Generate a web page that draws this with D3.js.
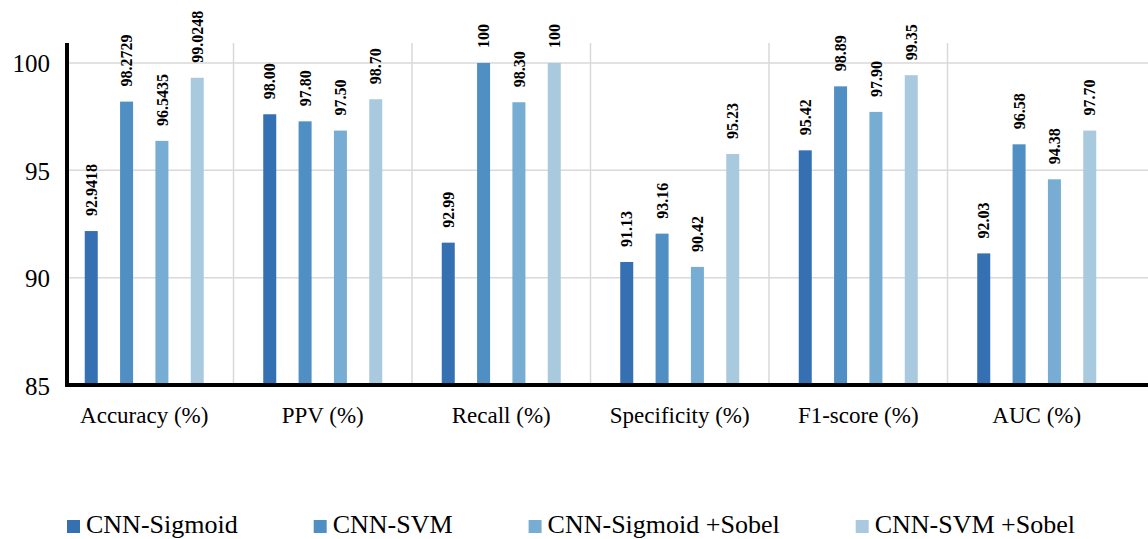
<!DOCTYPE html>
<html>
<head>
<meta charset="utf-8">
<script src="https://cdn.jsdelivr.net/npm/d3@7"></script>
<style>
    body { margin: 0; background: #fff; }
    svg { display: block; }
</style>
</head>
<body>
<svg width="1148" height="539"></svg>
<script>
var categories = ['Accuracy (%)', 'PPV (%)', 'Recall (%)', 'Specificity (%)', 'F1-score (%)', 'AUC (%)'];
var seriesNames = ['CNN-Sigmoid', 'CNN-SVM', 'CNN-Sigmoid +Sobel', 'CNN-SVM +Sobel'];
var colors = ['#3470b2', '#4f8fc4', '#77add2', '#a9c9de'];

// bar heights as drawn in the picture
var sigmoidValues = [92.17, 97.61, 91.63, 90.73, 95.93, 91.13];
var svmValues = [98.20, 97.28, 100, 92.05, 98.91, 96.21];
var sigmoidSobelValues = [96.37, 96.85, 98.17, 90.50, 97.72, 94.58];
var svmSobelValues = [99.31, 98.31, 100, 95.76, 99.43, 96.85];

// the numbers printed above the bars
var sigmoidLabels = ['92.9418', '98.00', '92.99', '91.13', '95.42', '92.03'];
var svmLabels = ['98.2729', '97.80', '100', '93.16', '98.89', '96.58'];
var sigmoidSobelLabels = ['96.5435', '97.50', '98.30', '90.42', '97.90', '94.38'];
var svmSobelLabels = ['99.0248', '98.70', '100', '95.23', '99.35', '97.70'];

var yTicks = [85, 90, 95, 100];

var values = [sigmoidValues, svmValues, sigmoidSobelValues, svmSobelValues];
var labels = [sigmoidLabels, svmLabels, sigmoidSobelLabels, svmSobelLabels];

var font = "'Liberation Serif', 'Times New Roman', Times, 'DejaVu Serif', serif";
var axisX = 67;
var baseY = 385;
var topY = 43;
var rightX = 1148;
var barWidth = 13;

var svg = d3.select('svg').style('font-family', font);

var x = d3.scaleBand().domain(categories).range([55, 1126]);
var xs = d3.scalePoint().domain(seriesNames).range([-53, 53]);
var y = d3.scaleLinear().domain([85, 101]).range([baseY, baseY - 16 * 21.47]);

// vertical separators between groups
svg.append('g')
    .selectAll('line')
    .data(categories.slice(1))
    .enter().append('line')
    .attr('x1', function(d) { return x(d); })
    .attr('x2', function(d) { return x(d); })
    .attr('y1', topY)
    .attr('y2', baseY)
    .attr('stroke', '#d9d9d9')
    .attr('stroke-width', 1.5);

// horizontal grid
svg.append('g')
    .selectAll('line')
    .data(yTicks.slice(1))
    .enter().append('line')
    .attr('x1', axisX)
    .attr('x2', rightX)
    .attr('y1', function(d) { return y(d); })
    .attr('y2', function(d) { return y(d); })
    .attr('stroke', '#d9d9d9')
    .attr('stroke-width', 1.5);

// y tick labels
var yAxis = svg.append('g')
    .attr('transform', 'translate(' + (axisX - 17) + ',0)')
    .call(d3.axisLeft(y).tickValues(yTicks).tickSize(0).tickPadding(0));
yAxis.attr('font-family', null).attr('font-size', null);
yAxis.select('.domain').remove();
yAxis.selectAll('text')
    .style('font-family', font)
    .style('font-size', '25px')
    .style('fill', '#000')
    .attr('dy', '0.36em');

// bars and value labels
seriesNames.forEach(function(name, s) {
    var g = svg.append('g').attr('class', 'series');

    g.selectAll('rect')
        .data(values[s])
        .enter().append('rect')
        .attr('x', function(d, i) { return x(categories[i]) + x.bandwidth() / 2 + xs(name) - barWidth / 2; })
        .attr('y', function(d) { return y(d); })
        .attr('width', barWidth)
        .attr('height', function(d) { return baseY - y(d); })
        .attr('fill', colors[s]);

    g.selectAll('text')
        .data(values[s])
        .enter().append('text')
        .attr('transform', function(d, i) {
            var cx = x(categories[i]) + x.bandwidth() / 2 + xs(name);
            return 'translate(' + cx + ',' + (y(d) - 15) + ') rotate(-90)';
        })
        .attr('dy', '0.35em')
        .style('font-family', font)
        .style('font-size', '16px')
        .style('font-weight', 'bold')
        .text(function(d, i) { return labels[s][i]; });
});

// axis lines
svg.append('line')
    .attr('x1', axisX).attr('x2', axisX)
    .attr('y1', topY).attr('y2', baseY + 2)
    .attr('stroke', '#000').attr('stroke-width', 4);
svg.append('line')
    .attr('x1', axisX - 2).attr('x2', rightX)
    .attr('y1', baseY).attr('y2', baseY)
    .attr('stroke', '#000').attr('stroke-width', 4);

// category labels
svg.append('g')
    .selectAll('text')
    .data(categories)
    .enter().append('text')
    .attr('x', function(d) { return x(d) + x.bandwidth() / 2; })
    .attr('y', 423)
    .attr('text-anchor', 'middle')
    .style('font-family', font)
    .style('font-size', '23px')
    .text(function(d) { return d; });

// legend
var legend = svg.append('g').attr('transform', 'translate(67,533)');
var lx = 0;
seriesNames.forEach(function(name, s) {
    var item = legend.append('g').attr('transform', 'translate(' + lx + ',0)');
    item.append('rect')
        .attr('x', 0)
        .attr('y', -13)
        .attr('width', 13)
        .attr('height', 13)
        .attr('fill', colors[s]);
    var t = item.append('text')
        .attr('x', 19)
        .attr('y', 0)
        .style('font-family', font)
        .style('font-size', '26px')
        .text(name);
    lx += 19 + t.node().getComputedTextLength() + 76;
});
</script>
</body>
</html>
